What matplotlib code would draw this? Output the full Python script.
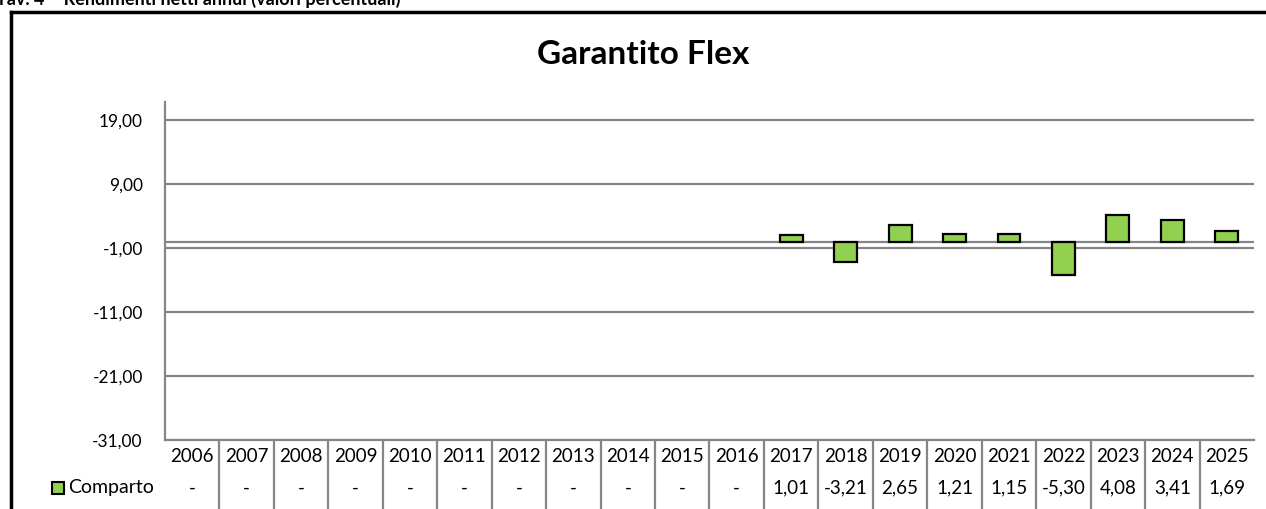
import matplotlib
matplotlib.use("Agg")
import matplotlib.pyplot as plt
from matplotlib.patches import Rectangle
from matplotlib.lines import Line2D
from matplotlib import transforms

plt.rcParams['font.family'] = ['Lato', 'DejaVu Sans']

# data
years = ["2006", "2007", "2008", "2009", "2010", "2011", "2012", "2013", "2014", "2015",
         "2016", "2017", "2018", "2019", "2020", "2021", "2022", "2023", "2024", "2025"]
comparto = [None, None, None, None, None, None, None, None, None, None,
            None, 1.01, -3.21, 2.65, 1.21, 1.15, -5.30, 4.08, 3.41, 1.69]
yticks = [-31, -21, -11, -1, 9, 19]

W, H = 1266, 509
fig = plt.figure(figsize=(W / 100, H / 100), dpi=100)

def fx(px):
    return px / W

def fy(py):
    return 1 - py / H

ax = fig.add_axes([fx(165), fy(440), fx(1254) - fx(165), fy(102) - fy(440)])

grey = "#868686"
xs = list(range(len(years)))
bx = [x for x, v in zip(xs, comparto) if v is not None]
bv = [v for v in comparto if v is not None]
ax.bar(bx, bv, width=0.42, color="#92D050", edgecolor="black", linewidth=1.6, zorder=3)
ax.axhline(0, color=grey, linewidth=1.6, zorder=2)

ax.set_xlim(-0.5, len(years) - 0.5)
ax.set_ylim(-31, 21.8)
ax.set_yticks(yticks)
ax.set_yticklabels([("%.2f" % t).replace(".", ",") for t in yticks], fontsize=12.5)
ax.set_xticks([])
ax.tick_params(axis="y", length=0, pad=16)
ax.grid(axis="y", color=grey, linewidth=1.6, zorder=1)
ax.spines["top"].set_visible(False)
ax.spines["right"].set_visible(False)
ax.spines["left"].set_color(grey)
ax.spines["left"].set_linewidth(1.6)
ax.spines["bottom"].set_color(grey)
ax.spines["bottom"].set_linewidth(1.6)

# data table under the chart
trans = transforms.blended_transform_factory(ax.transData, fig.transFigure)
for i, (yr, v) in enumerate(zip(years, comparto)):
    ax.text(i, fy(457), yr, transform=trans, ha="center", va="center", fontsize=13.5, clip_on=False)
    txt = "-" if v is None else ("%.2f" % v).replace(".", ",")
    ax.text(i, fy(488), txt, transform=trans, ha="center", va="center", fontsize=13.5, clip_on=False)
    if i > 0:
        ax.add_line(Line2D([i - 0.5, i - 0.5], [fy(440), 0], transform=trans, color=grey,
                           linewidth=1.6, clip_on=False))

# legend key
fig.patches.append(Rectangle((fx(52), fy(494)), fx(64) - fx(52), fy(482) - fy(494),
                             transform=fig.transFigure, facecolor="#92D050", edgecolor="black",
                             linewidth=1.5))
fig.text(fx(68), fy(488), "Comparto", ha="left", va="center", fontsize=14)

# title
fig.text(fx(643), fy(55), "Garantito Flex", ha="center", va="center", fontsize=24, fontweight="bold")

# heading cut off at the top
fig.text(fx(-4), fy(5), "Tav. 4 \u2013 Rendimenti netti annui (valori percentuali)",
         ha="left", va="baseline", fontsize=13, fontweight="bold")

# outer frame (left and top)
fig.add_artist(Line2D([fx(11), fx(11)], [0, fy(12)], transform=fig.transFigure, color="black", linewidth=2.5))
fig.add_artist(Line2D([fx(11), 1], [fy(12), fy(12)], transform=fig.transFigure, color="black", linewidth=2.5))

fig.savefig("out.png", dpi=100)
